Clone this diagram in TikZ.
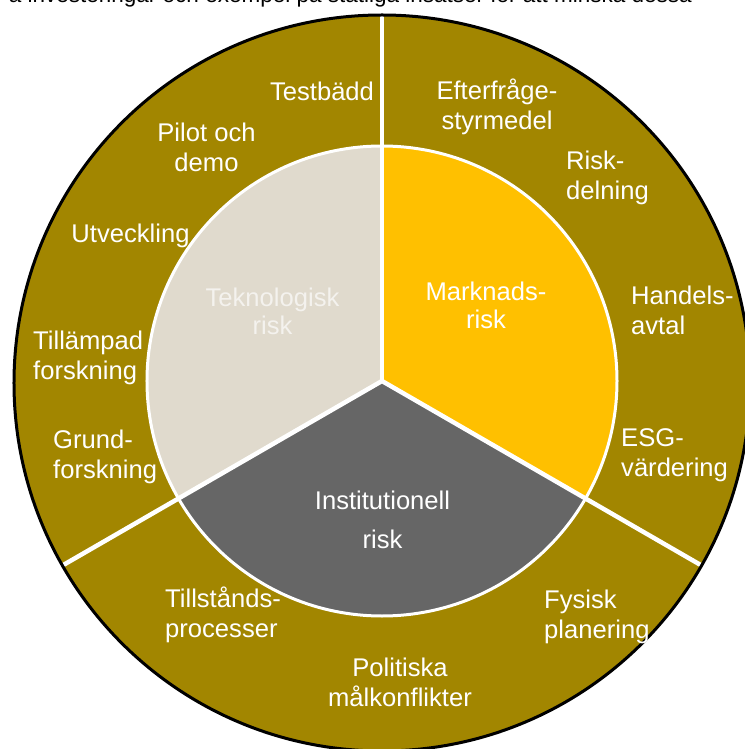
\documentclass[tikz,border=0pt]{standalone}
\usepackage{fontspec}
\setmainfont{Liberation Sans}
\usepackage{xcolor}
\usepackage{tikz}
\definecolor{ringgold}{RGB}{162,134,0}
\definecolor{techtan}{RGB}{224,218,205}
\definecolor{marketyellow}{RGB}{255,192,0}
\definecolor{instgray}{RGB}{102,102,102}
\definecolor{techtext}{RGB}{244,242,238}

\begin{document}
\begin{tikzpicture}[x=1pt, y=1pt,
      tag/.style={text=white, inner sep=0pt, align=center, font=\fontsize{25.6}{30}\selectfont},
      tagl/.style={tag, align=left, anchor=west},
      core/.style={tag, font=\fontsize{25.6}{28}\selectfont},
      cut/.style={white, line width=4.5pt}
    ]
      \useasboundingbox (-382,-368) rectangle (362,381);
      \fill[ringgold] (0,-2) circle[radius=368];
      \fill[techtan] (0,0) -- (90:235) arc[start angle=90, end angle=210, radius=235] -- cycle;
      \fill[instgray] (0,0) -- (210:235) arc[start angle=210, end angle=330, radius=235] -- cycle;
      \fill[marketyellow] (0,0) -- (-30:235) arc[start angle=-30, end angle=90, radius=235] -- cycle;
      \draw[white, line width=3pt] (0,0) circle[radius=235];
      \begin{scope}
        \clip (0,-2) circle[radius=368];
        \foreach \a in {90,210,330}
          \draw[cut] (0,0) -- (\a:400);
      \end{scope}
      \draw[black, line width=3pt] (0,-2) circle[radius=368];
      \node[anchor=base east, inner sep=0pt, font=\fontsize{22.5}{27}\selectfont] (caption) at (310,378)
        {a investeringar och exempel på statliga insatser för att minska dessa};
      \node[tag] (testbadd) at (-60,289.5) {Testbädd};
      \node[tag] (pilot) at (-175.5,233.5) {Pilot och\\demo};
      \node[tag] (utveckling) at (-251.5,145) {Utveckling};
      \node[tagl] (tillampad) at (-349,23) {Tillämpad\\forskning};
      \node[tagl] (grund) at (-329,-75.5) {Grund-\\forskning};
      \node[tag] (efterfragan) at (115,274.5) {Efterfråge-\\styrmedel};
      \node[tagl] (riskdelning) at (184,203) {Risk-\\delning};
      \node[tagl] (handel) at (249,70.5) {Handels-\\avtal};
      \node[tagl] (esg) at (239,-74) {ESG-\\värdering};
      \node[tagl] (tillstand) at (-217,-234) {Tillstånds-\\processer};
      \node[tagl] (fysisk) at (162,-236) {Fysisk\\planering};
      \node[tag] (politik) at (18,-301.5) {Politiska\\målkonflikter};
      \node[core, text=techtext] (teknik) at (-109.5,70) {Teknologisk\\risk};
      \node[core] (marknad) at (104,75.5) {Marknads-\\risk};
      \node[tag, font=\fontsize{25.6}{39}\selectfont] (institution) at (0.5,-139) {Institutionell\\risk};
    \end{tikzpicture}
\end{document}
